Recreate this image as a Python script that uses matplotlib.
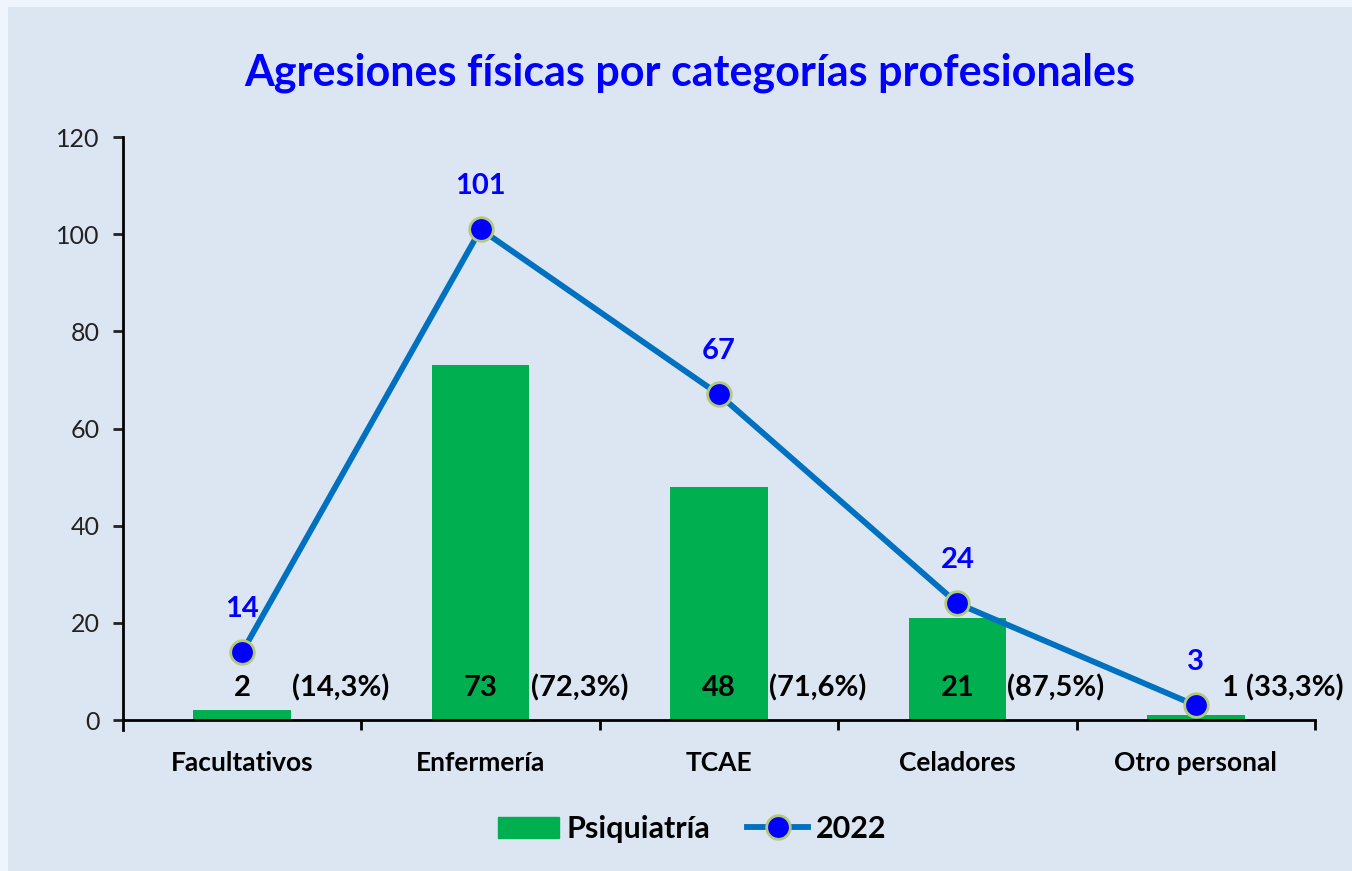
import matplotlib.pyplot as plt
import matplotlib.patches as mpatches
from matplotlib.lines import Line2D
import numpy as np

plt.rcParams['font.family'] = ['Lato', 'DejaVu Sans']

categorias = ['Facultativos', 'Enfermería', 'TCAE', 'Celadores', 'Otro personal']
psiquiatria = [2, 73, 48, 21, 1]
total_2022 = [14, 101, 67, 24, 3]

bar_green = '#00B050'
line_blue = '#0070C0'
label_blue = '#0000FF'
bg = '#DCE6F2'

fig = plt.figure(figsize=(13.52, 8.71), dpi=100)
fig.patch.set_facecolor('#EEF5FC')
# panel behind the chart
fig.patches.append(mpatches.Rectangle((8 / 1352, 0), 1, 1 - 7 / 871, transform=fig.transFigure,
                                      facecolor=bg, edgecolor='none', zorder=-10))

ax = fig.add_axes([123 / 1352, 151 / 871, 1192 / 1352, 583 / 871])
ax.set_facecolor('none')

x = np.arange(len(categorias))
ax.bar(x, psiquiatria, width=0.41, color=bar_green, zorder=2, label='Psiquiatría')
ax.plot(x, total_2022, color=line_blue, lw=4.2, marker='o', ms=17, mfc=label_blue,
        mec='#B5C97A', mew=2, zorder=3, label='2022')

# blue labels above the points
for xi, v in zip(x, total_2022):
    ax.annotate(str(v), (xi, v), xytext=(0, 31), textcoords='offset points',
                ha='center', va='center', color=label_blue, fontsize=21, fontweight='bold')

# psiquiatria values and share of the total
for xi, p, t in zip(x, psiquiatria, total_2022):
    pct = f'({p / t * 100:.1f}%)'.replace('.', ',')
    dx = 0.14 if xi == len(x) - 1 else 0
    ax.text(xi + dx, 6.6, str(p), ha='center', va='center', fontsize=21, fontweight='bold', color='black', zorder=4)
    ax.text(xi + 0.21, 6.6, pct, ha='left', va='center', fontsize=21, fontweight='bold', color='black', zorder=4)

ax.set_xlim(-0.5, len(x) - 0.5)
ax.set_ylim(0, 120)
ax.set_yticks(np.arange(0, 121, 20))
ax.tick_params(axis='y', labelsize=18, length=7, width=2, direction='out', pad=10, colors='#222222')
ax.set_xticks(x)
ax.set_xticklabels(categorias, fontsize=19, fontweight='bold')
ax.tick_params(axis='x', length=0, pad=22)
ax.set_xticks(np.arange(0.5, len(x), 1), minor=True)
ax.tick_params(axis='x', which='minor', length=7, width=2, direction='out')

for s in ['top', 'right']:
    ax.spines[s].set_visible(False)
for s in ['left', 'bottom']:
    ax.spines[s].set_linewidth(2)
ax.spines['left'].set_bounds(-2, 120)

fig.text(690 / 1352, 1 - 73 / 871, 'Agresiones físicas por categorías profesionales',
         ha='center', va='center', fontsize=31, fontweight='bold', color=label_blue)

handles = [mpatches.Patch(color=bar_green),
           Line2D([0], [0], color=line_blue, lw=4.2, marker='o', ms=17, mfc=label_blue, mec='#B5C97A', mew=2)]
leg = fig.legend(handles, ['Psiquiatría', '2022'], loc='center', bbox_to_anchor=(692 / 1352, 1 - 829 / 871),
                 ncol=2, frameon=False, prop={'size': 22, 'weight': 'bold'}, handlelength=2.0,
                 handletextpad=0.25, columnspacing=1.2)

fig.savefig('out.png', dpi=100, facecolor=fig.get_facecolor())
